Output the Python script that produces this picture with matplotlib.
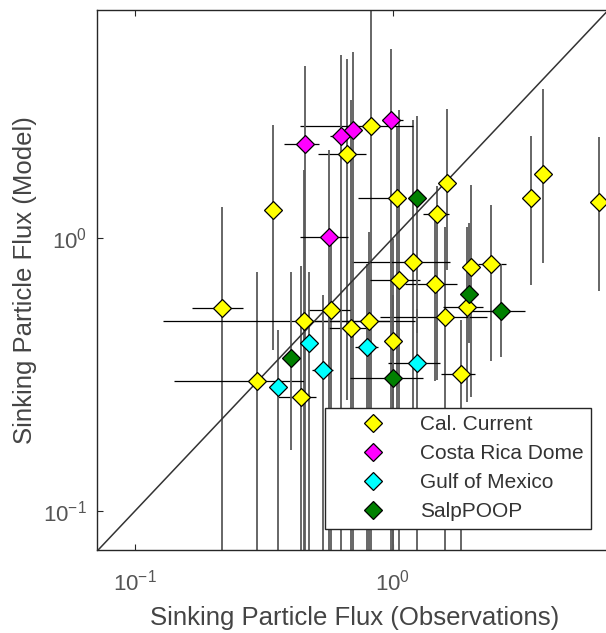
import numpy as np
import matplotlib
matplotlib.use('Agg')
import matplotlib.pyplot as plt

plt.rcParams['font.family'] = ['Liberation Sans', 'DejaVu Sans']
plt.rcParams['mathtext.default'] = 'regular'

nan = np.nan

# Cal. Current
cc_x = [0.217, 0.343, 0.297, 0.440, 0.452, 0.575, 0.688, 0.807, 0.663, 0.822, 1.036, 1.62, 1.48,
        1.195, 1.055, 1.455, 2.01, 2.40, 1.94, 1.59, 1.00, 1.835, 3.43, 3.81, 6.29]
cc_y = [0.554, 1.27, 0.299, 0.262, 0.497, 0.545, 0.468, 0.497, 2.03, 2.57, 1.40, 1.59, 1.224,
        0.817, 0.702, 0.678, 0.783, 0.803, 0.559, 0.514, 0.420, 0.318, 1.40, 1.715, 1.355]
cc_ylo = [0.01, 0.389, 0.01, 0.01, 0.01, 0.01, 0.01, 0.01, 0.255, 0.01, 0.215, 0.763, 0.302,
          0.167, 0.01, 0.30, 0.262, 0.354, 0.25, 0.01, 0.01, 0.01, 0.673, 0.810, 0.640]
cc_yhi = [1.30, 2.59, 0.751, 0.79, 1.77, 0.98, 3.2, 1.05, 4.53, 10, 2.57, 2.97, 1.55,
          2.71, 2.94, 1.2, 1.56, 1.32, 1.1, 1.1, 0.99, 0.50, 2.36, 3.51, 2.34]
cc_xlo = [0.166, nan, 0.142, 0.358, 0.129, 0.468, 0.56, 0.448, 0.512, 0.436, 0.732, nan, 1.31,
          0.694, 0.814, 1.11, nan, 2.14, 1.56, 0.89, nan, 1.535, nan, nan, nan]
cc_xhi = [0.262, nan, 0.452, 0.503, 0.97, 0.681, 0.80, 1.22, 0.786, 1.195, 1.06, nan, 1.65,
          1.66, 1.27, 1.77, nan, 2.74, 2.23, 2.31, nan, 2.08, nan, nan, nan]

# Costa Rica Dome
crd_x = [0.456, 0.628, 0.70, 0.982, 0.565]
crd_y = [2.21, 2.36, 2.49, 2.71, 1.01]
crd_ylo = [0.01, 0.01, 0.01, 0.01, 0.01]
crd_yhi = [4.27, 4.68, 4.80, 4.92, 2.10]
crd_xlo = [0.378, 0.57, nan, 0.906, 0.436]
crd_xhi = [0.517, 0.68, nan, 1.093, 0.669]

# Gulf of Mexico
gom_x = [0.358, 0.473, 0.535, 0.793, 1.239]
gom_y = [0.285, 0.412, 0.328, 0.399, 0.348]
gom_ylo = [0.01, 0.01, 0.01, 0.01, 0.01]
gom_yhi = [0.46, 0.75, 0.62, 0.80, 0.55]
gom_xlo = [nan, nan, 0.485, 0.712, 0.956]
gom_xhi = [nan, nan, 0.585, 0.874, 1.52]

# SalpPOOP
sp_x = [0.402, 1.239, 1.97, 2.62, 1.00]
sp_y = [0.363, 1.40, 0.624, 0.540, 0.307]
sp_ylo = [0.167, 0.45, 0.412, 0.367, 0.01]
sp_yhi = [0.75, 2.8, 1.135, 0.80, 0.62]
sp_xlo = [nan, nan, nan, 1.99, 0.681]
sp_xhi = [nan, nan, nan, 3.25, 1.31]

groups = [
    ('Cal. Current', '#FFFF00', cc_x, cc_y, cc_ylo, cc_yhi, cc_xlo, cc_xhi),
    ('Costa Rica Dome', '#FF00FF', crd_x, crd_y, crd_ylo, crd_yhi, crd_xlo, crd_xhi),
    ('Gulf of Mexico', '#00FFFF', gom_x, gom_y, gom_ylo, gom_yhi, gom_xlo, gom_xhi),
    ('SalpPOOP', '#008000', sp_x, sp_y, sp_ylo, sp_yhi, sp_xlo, sp_xhi),
]

xlim = (0.0713, 7.13)
ylim = (0.0720, 6.84)

fig = plt.figure(figsize=(6.06, 6.33), dpi=100)
ax = fig.add_axes([0.1601, 0.1311, 0.8515, 0.8531])

# error bars first (vertical grey, horizontal black)
for name, col, x, y, ylo, yhi, xlo, xhi in groups:
    x = np.array(x); y = np.array(y)
    ylo = np.array(ylo); yhi = np.array(yhi)
    xlo = np.array(xlo); xhi = np.array(xhi)
    ax.vlines(x, ylo, yhi, color='#5a5a5a', lw=1.3, zorder=2)
    ok = ~np.isnan(xlo)
    ax.hlines(y[ok], xlo[ok], xhi[ok], color='black', lw=0.9, zorder=2)

# 1:1 line
ax.plot([0.01, 100], [0.01, 100], color='#333333', lw=1.1, zorder=3)

for name, col, x, y, ylo, yhi, xlo, xhi in groups:
    ax.plot(x, y, 'D', ms=8.8, mfc=col, mec='black', mew=0.9, ls='none', label=name, zorder=4)

ax.set_xscale('log')
ax.set_yscale('log')
ax.set_xlim(xlim)
ax.set_ylim(ylim)
ax.minorticks_off()
ax.tick_params(which='both', direction='in', top=True, right=True, length=4,
               labelsize=16, colors='#262626', labelcolor='#555555')
ax.tick_params(axis='x', pad=14)
ax.tick_params(axis='y', pad=7)
for s in ax.spines.values():
    s.set_color('#262626')
    s.set_linewidth(1.0)

ax.set_xlabel('Sinking Particle Flux (Observations)', fontsize=18.5, color='#444444', labelpad=8)
ax.set_ylabel('Sinking Particle Flux (Model)', fontsize=18.5, color='#444444', labelpad=5)

leg = ax.legend(loc='lower right', bbox_to_anchor=(0.957, 0.039), frameon=True, fancybox=False,
                framealpha=1, edgecolor='#262626', fontsize=15, borderpad=0.36,
                handletextpad=0.3, handlelength=3.9, labelspacing=0.48, borderaxespad=0)
leg.get_frame().set_linewidth(1.0)
leg.set_zorder(10)
for t in leg.get_texts():
    t.set_color('#333333')

fig.savefig('out.png', dpi=100)
